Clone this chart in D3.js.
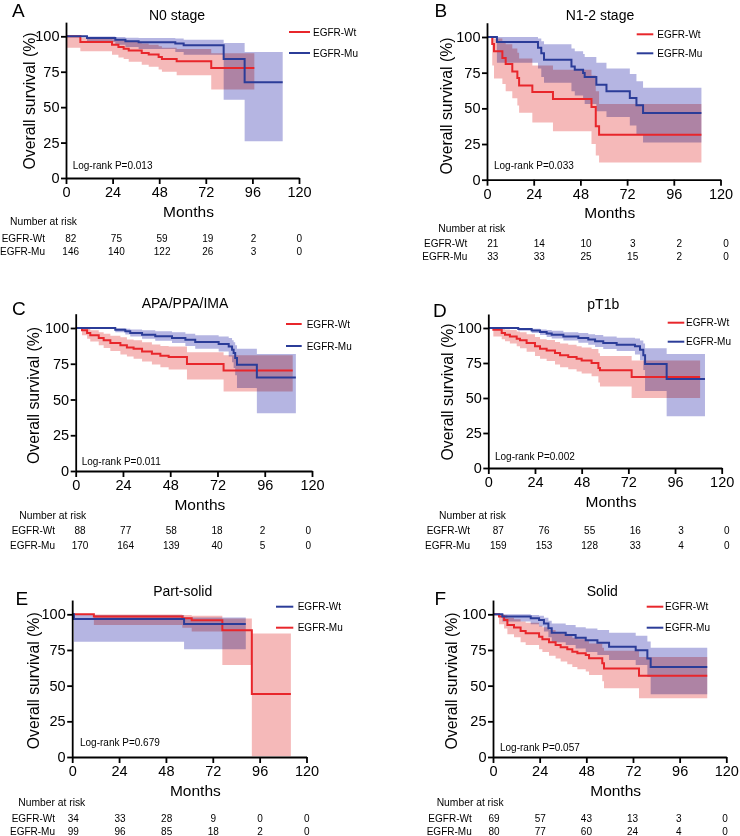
<!DOCTYPE html>
<html><head><meta charset="utf-8">
<script src="https://cdn.jsdelivr.net/npm/d3@7"></script>
<style>
body{margin:0;background:#fff}
svg{display:block}
text{font-family:"Liberation Sans",Arial,Helvetica,sans-serif;fill:#000}
</style>
</head><body>
<svg id="c" width="740" height="836"></svg>
<script>
// ---------------- DATA ----------------
const panelIds = ["A","B","C","D","E","F"];
const panelTitles = ["N0 stage","N1-2 stage","APA/PPA/IMA","pT1b","Part-solid","Solid"];
const logRankP = ["0.013","0.033","0.011","0.002","0.679","0.057"];
const seriesNames = ["EGFR-Wt","EGFR-Mu"];
const xTicks = [0,24,48,72,96,120];
const yTicks = [0,25,50,75,100];
const riskTimes = [0,24,48,72,96,120];
const riskWt = [[82,75,59,19,2,0],[21,14,10,3,2,0],[88,77,58,18,2,0],[87,76,55,16,3,0],[34,33,28,9,0,0],[69,57,43,13,3,0]];
const riskMu = [[146,140,122,26,3,0],[33,33,25,15,2,0],[170,164,139,40,5,0],[159,153,128,33,4,0],[99,96,85,18,2,0],[80,77,60,24,4,0]];

// Kaplan-Meier steps: [month, survival %, lower 95% CI, upper 95% CI]; last row = end of follow-up
const kmA_Wt = [[0,100,92,100],[7.4,96,89.5,99],[23.7,94.1,87,98],[27,92.5,85,97.5],[29.7,91.3,84,97],[32.3,89.9,82,96],[39,88.2,80,95],[42.6,87.1,78.5,94],[47.7,85.4,76.5,93],[49.4,84,75,92],[57,82.4,72.5,91],[74.8,77.6,62.5,88],[97,77.6,62.5,88]];
const kmA_Mu = [[0,100,100,100],[10.8,98.8,96,99.8],[25.4,97.6,94,99.5],[30.6,96.5,92.5,99],[37.4,95.8,91,98.8],[56.3,95,89,98.5],[60.6,93.6,87,97.5],[81.2,84,55.3,95.3],[92,67.5,25.9,88.9],[111.6,67.5,25.9,88.9]];
const kmB_Wt = [[0,100,100,100],[2.7,95.1,80,100],[3.6,90,71,99],[7.9,85.3,67,97],[9.6,81.1,62,95],[13,75.9,57,92],[15.6,71.3,52,89],[16.5,66.1,47,85],[23.3,61.4,40,80],[33.9,56.5,34,77],[53.7,50.9,25,73],[55.9,37.4,17,62],[57.6,31.5,12,53],[110.2,31.5,12,53]];
const kmB_Mu = [[0,100,100,100],[5.1,96.5,82,100],[26.2,92.5,78,99],[27.9,88.7,72,97],[29.3,84.1,68,95],[43.4,79.4,62,92],[45.1,77,59,90],[49.4,74.8,56,88],[50.2,72,53,86],[56.2,66.6,48,82],[61.4,61.9,44,78],[73.4,57.2,38,74],[76.8,52.1,32,69],[80.2,46.7,26,64.5],[110.2,46.7,26,64.5]];
const kmC_Wt = [[0,100,100,100],[3.2,98.4,95,100],[5.8,96.5,92.5,99.5],[7.4,94.9,90.5,98.5],[11.7,93,88,97],[14.2,91.4,86,96],[17.6,89.5,84,94.5],[22.7,87.9,81.5,93.5],[26,86.4,80,92],[29.4,85.5,78.5,91.5],[33.7,83.6,76.5,90],[38.7,82,74.5,88.5],[43,80.6,72.5,87.5],[47.2,79.7,71,87],[56.5,74.8,64,83],[75.1,70.3,55.6,81],[110.2,70.3,55.6,81]];
const kmC_Mu = [[0,100,100,100],[20.1,98.8,97,99.8],[25.2,97.7,95.5,99.5],[27.7,96.5,94,99],[33.7,95.3,92.5,98.5],[40.4,94.2,91,97.8],[48.9,93,89.5,97],[55.7,91.8,87.5,96],[60.7,90.2,85.5,95],[72.6,88.8,83.5,94],[77.7,87.1,80,93],[79.4,84.8,76,91.5],[80.2,82.5,72,90],[81,79,67,88],[81.9,74.3,58,85.5],[92,65.4,40.4,81.8],[111.8,65.4,40.4,81.8]];
const kmD_Wt = [[0,100,100,100],[2.6,98.8,94,100],[6.9,96.4,92,99.5],[8.6,95.2,90.5,99],[11.1,94,89,98.5],[14.6,92.4,87,97.5],[16.3,91.2,85.5,97],[19.7,89.3,83,95.5],[24,86.9,80,93.5],[26.6,85.2,78,92],[30,84,76.5,91.5],[34.3,82.1,74,90],[36.9,80.5,72,89],[41.1,79.3,70.5,88],[45.4,78.1,69,87],[48,76.7,67.5,86],[53.1,75,65.5,85],[56.6,71.4,61,82],[57.4,69.8,58.3,80],[73.7,65,50,76.7],[108.9,65,50,76.7]];
const kmD_Mu = [[0,100,100,100],[15.4,99.3,98,100],[22.3,98.3,96.5,99.5],[26.6,97.1,95,99],[30,96,93.5,98.5],[32.6,95.2,92.5,98],[38.6,94,91,97],[46.3,92.9,89.5,96.5],[51.4,91.7,88,95.5],[54.9,90.5,86.5,95],[59.1,89.3,85,94],[66,88.1,83.5,93],[75.4,86.9,81,92.5],[78,84.5,77,91],[79.7,80.5,70,89],[80.6,74.3,55,85.5],[91.7,63.6,37,81.4],[111.4,63.6,37,81.4]];
const kmE_Wt = [[0,100,100,100],[0.9,96.7,80.7,99.5],[57.3,93.2,75.5,97.8],[88.9,93.2,75.5,97.8]];
const kmE_Mu = [[0,100,100,100],[11.1,98.4,92.5,99.8],[56.4,97.2,90.5,99.5],[61.2,95.8,88,99],[76.9,88.9,64.5,97],[92,44.2,0.5,86.5],[112,44.2,0.5,86.5]];
const kmF_Wt = [[0,100,100,100],[3.1,98.4,93,100],[5.7,96,90,99.5],[7.4,92.5,86,97.5],[10.8,90.7,84,96.5],[14.2,88.3,80.5,95],[16.8,86.7,78.5,94],[23.7,84.3,75.5,92],[25.4,82.5,73.5,91],[28.8,80.4,71,89],[32.2,78.5,69,87.5],[34.8,76.9,67,86.5],[38.2,75.5,65,85],[40.8,73.8,63,83.5],[43.4,72.7,61.5,82.5],[47.7,71.5,60,81.5],[49.4,69.2,57.5,79.5],[56.2,65.7,53,76.5],[57.1,62.1,48.1,74.5],[75.1,57,41.1,70],[110.2,57,41.1,70]];
const kmF_Mu = [[0,100,100,100],[4.8,98.4,95,100],[19.4,97.2,93,99.5],[23.7,96,91.5,99],[26.2,93.5,88,97.5],[28.5,90.2,84,95.5],[30.2,87.1,80.5,93.5],[37.4,85.5,78.5,92.5],[42.5,83.6,76,91],[47.7,81.8,73.5,90],[53.7,80.1,71.5,89],[59.7,77.3,68,87],[73.4,74.8,64.5,85],[79.4,69,56,81],[81.1,63.1,44,76.6],[110.2,63.1,44,76.6]];

const curvesWt = [kmA_Wt,kmB_Wt,kmC_Wt,kmD_Wt,kmE_Wt,kmF_Wt];
const curvesMu = [kmA_Mu,kmB_Mu,kmC_Mu,kmD_Mu,kmE_Mu,kmF_Mu];

// ---------------- LAYOUT / STYLE ----------------
const RED = "#e8262b", BLUE = "#2b3c98";
const RED_BAND = "#f5b9b9", BLUE_BAND = "#b5b5e2";
const layout = [
 {x0:66,x1:299,yZero:178,yHundred:36.3,letter:[12,17.3],title:[177,15],leg:[289,310,313],legY:[32,53],lr:[72.7,165.7],ylab:[29,101],nar:[10,221],labEnd:45,rows:[238,251],cols:[70.7,299.3],swap:false},
 {x0:487,x1:720.5,yZero:179.7,yHundred:37,letter:[434.5,17],title:[600,15],leg:[636.7,653.3,657.3],legY:[34.3,53.3],lr:[494,165.7],ylab:[446.7,106],nar:[438.3,228],labEnd:467.3,rows:[243,256],cols:[492.7,726],swap:false},
 {x0:75.7,x1:312,yZero:471,yHundred:328,letter:[12,315],title:[185,302.7],leg:[286,301.7,306.7],legY:[324,346],lr:[81.7,461],ylab:[33.3,395.5],nar:[19.3,515],labEnd:55,rows:[530,545],cols:[80,308.3],swap:false},
 {x0:488.3,x1:721.7,yZero:468,yHundred:328,letter:[433,316.7],title:[603.3,304],leg:[667.7,684.3,686],legY:[322.7,341.7],lr:[495,456.7],ylab:[447.7,392],nar:[439,515],labEnd:470,rows:[530,545],cols:[498.3,726.7],swap:false},
 {x0:72.2,x1:306.5,yZero:757,yHundred:614.3,letter:[15.5,605],title:[182.7,590.7],leg:[276,293.3,297.7],legY:[606.7,627.7],lr:[80,742.7],ylab:[33.3,680.8],nar:[18.3,802.3],labEnd:55,rows:[818.3,831.7],cols:[73.3,306.7],swap:true},
 {x0:493,x1:726.3,yZero:757,yHundred:614.3,letter:[434.5,605],title:[602.3,590.7],leg:[646.7,663.3,665],legY:[606.7,627.7],lr:[500,747.7],ylab:[451.7,681],nar:[436.7,802.3],labEnd:471.7,rows:[818.3,831.7],cols:[494,725],swap:false}
];

const svg = d3.select("#c");

panelIds.forEach((id, i) => {
  const L = layout[i];
  const k = (L.yZero - L.yHundred) / 100;
  const x = d3.scaleLinear().domain([0,120]).range([L.x0, L.x1]);
  const y = d3.scaleLinear().domain([0,110]).range([L.yZero, L.yZero - 110*k]);
  const rx = d3.scaleLinear().domain([0,120]).range(L.cols);
  const g = svg.append("g").attr("class","panel-"+id);

  const wtCol = L.swap ? BLUE : RED, muCol = L.swap ? RED : BLUE;
  const wtBand = L.swap ? BLUE_BAND : RED_BAND, muBand = L.swap ? RED_BAND : BLUE_BAND;

  const area = d3.area().curve(d3.curveStepAfter)
    .x(d => x(d[0])).y0(d => y(d[2])).y1(d => y(d[3]));
  const line = d3.line().curve(d3.curveStepAfter)
    .x(d => x(d[0])).y(d => y(d[1]));

  const bands = g.append("g").style("isolation","isolate");
  bands.append("path").datum(curvesWt[i]).attr("d", area).attr("fill", wtBand).style("mix-blend-mode","multiply");
  bands.append("path").datum(curvesMu[i]).attr("d", area).attr("fill", muBand).style("mix-blend-mode","multiply");

  const order = L.swap ? [[curvesMu[i],muCol],[curvesWt[i],wtCol]] : [[curvesWt[i],wtCol],[curvesMu[i],muCol]];
  order.forEach(([c,col]) => {
    g.append("path").datum(c).attr("d", line).attr("fill","none").attr("stroke", col).attr("stroke-width", 2);
  });

  // axes
  const ax = g.append("g").attr("transform", `translate(0,${L.yZero})`)
    .call(d3.axisBottom(x).tickValues(xTicks).tickSize(6).tickPadding(3).tickSizeOuter(0));
  const ay = g.append("g").attr("transform", `translate(${L.x0},0)`)
    .call(d3.axisLeft(y).tickValues(yTicks).tickSize(5).tickPadding(1.5).tickSizeOuter(0));
  [ax, ay].forEach(a => {
    a.select(".domain").attr("stroke","#000").attr("stroke-width",1.8);
    a.selectAll(".tick line").attr("stroke","#000").attr("stroke-width",1.8);
    a.selectAll(".tick text").attr("font-size",14.5).attr("fill","#000")
      .style("font-family",'"Liberation Sans",Arial,sans-serif');
  });

  // axis titles
  g.append("text").attr("x", (L.x0+L.x1)/2 + 6).attr("y", L.yZero + 33)
    .attr("text-anchor","middle").attr("dominant-baseline","central").attr("font-size",15.5).text("Months");
  g.append("text").attr("transform", `translate(${L.ylab[0]},${L.ylab[1]}) rotate(-90)`)
    .attr("text-anchor","middle").attr("dominant-baseline","central").attr("font-size",15.8).text("Overall survival (%)");

  // title and letter
  g.append("text").attr("x", L.title[0]).attr("y", L.title[1]).attr("text-anchor","middle")
    .attr("dominant-baseline","central").attr("font-size",14).text(panelTitles[i]);
  g.append("text").attr("x", L.letter[0]).attr("y", L.letter[1]).attr("font-size",19).text(id);

  // log-rank
  g.append("text").attr("x", L.lr[0]).attr("y", L.lr[1]).attr("dominant-baseline","central")
    .attr("font-size",10).text("Log-rank P=" + logRankP[i]);

  // legend
  const legCols = [wtCol, muCol];
  seriesNames.forEach((n, j) => {
    g.append("line").attr("x1", L.leg[0]).attr("x2", L.leg[1]).attr("y1", L.legY[j]).attr("y2", L.legY[j])
      .attr("stroke", legCols[j]).attr("stroke-width", 2);
    g.append("text").attr("x", L.leg[2]).attr("y", L.legY[j]).attr("dominant-baseline","central")
      .attr("font-size",10).text(n);
  });

  // number at risk table
  g.append("text").attr("x", L.nar[0]).attr("y", L.nar[1]).attr("dominant-baseline","central")
    .attr("font-size",10.3).text("Number at risk");
  [riskWt[i], riskMu[i]].forEach((row, j) => {
    g.append("text").attr("x", L.labEnd).attr("y", L.rows[j]).attr("text-anchor","end")
      .attr("dominant-baseline","central").attr("font-size",10).text(seriesNames[j]);
    g.selectAll(null).data(row).enter().append("text")
      .attr("x", (d, m) => rx(riskTimes[m])).attr("y", L.rows[j])
      .attr("text-anchor","middle").attr("dominant-baseline","central").attr("font-size",10)
      .text(d => d);
  });
});
</script>
</body></html>
